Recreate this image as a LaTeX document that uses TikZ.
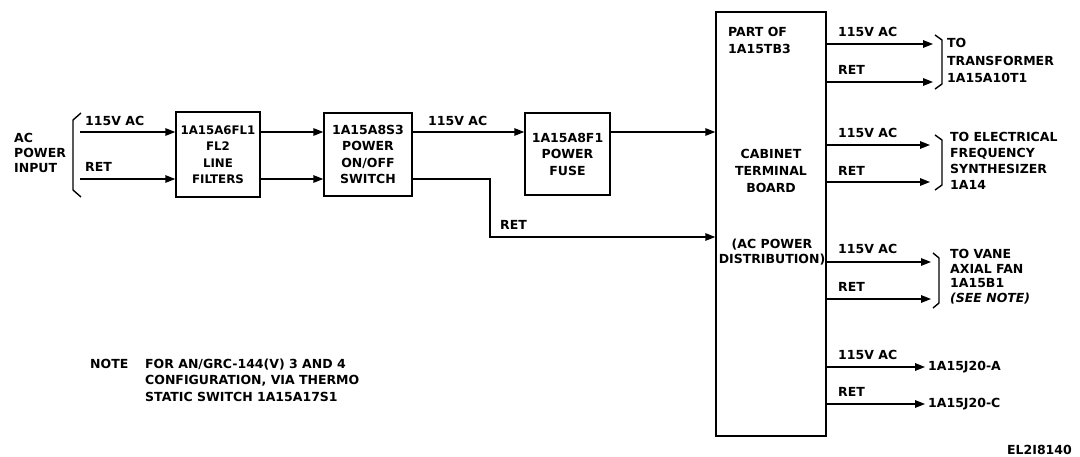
\documentclass[tikz,border=0pt]{standalone}
\usepackage{fontspec}
\setmainfont{DejaVu Sans}
\usetikzlibrary{arrows.meta}
\begin{document}
\begin{tikzpicture}[x=1pt,y=-1pt,
  every node/.style={font=\fontsize{12.5}{16.5}\selectfont\bfseries, inner sep=0pt},
  box/.style={draw, line width=1.4pt, align=center},
  wire/.style={line width=1.4pt},
  arr/.style={wire, -{Triangle[length=10pt,width=7.5pt]}},
  lbl/.style={anchor=west},
  brk/.style={line width=1.4pt, line join=round},
  multi/.style={anchor=west, align=left}]
\useasboundingbox (0,0) rectangle (1080,457);

% boxes
\node[box, minimum width=84pt, minimum height=85pt, font=\fontsize{11.8}{16.5}\selectfont\bfseries] (b1) at (218,154.5) {1A15A6FL1\\FL2\\LINE\\FILTERS};
\node[box, minimum width=88pt, minimum height=83pt] (b2) at (368,154.5) {1A15A8S3\\POWER\\ON/OFF\\SWITCH};
\node[box, minimum width=85pt, minimum height=82pt] (b3) at (567.5,154) {1A15A8F1\\POWER\\FUSE};
\node[box, minimum width=110pt, minimum height=424pt] (tb) at (771,224) {};

% left input
\node[multi, font=\fontsize{12.5}{15}\selectfont\bfseries] (acin) at (14,153) {AC\\POWER\\INPUT};
\draw[brk] (81,113) -- (73,120) -- (73,190) -- (81,197);
\coordinate (in1) at (80,132);
\coordinate (in2) at (80,179);
\node[lbl] (l1) at (85,121) {115V AC};
\node[lbl] (l2) at (85,167) {RET};
\draw[arr] (in1) -- (in1 -| b1.west);
\draw[arr] (in2) -- (in2 -| b1.west);
\draw[arr] (b1.east |- in1) -- (b2.west |- in1);
\draw[arr] (b1.east |- in2) -- (b2.west |- in2);
\draw[arr] (b2.east |- in1) -- (b3.west |- in1);
\draw[arr] (b3.east |- in1) -- (tb.west |- in1);
\node[lbl] (l3) at (428,121) {115V AC};
\coordinate (r1) at (490,179);
\coordinate (r2) at (490,237);
\draw[arr] (b2.east |- in2) -- (r1) -- (r2) -- (tb.west |- r2);
\node[lbl] (l4) at (500,225) {RET};

% terminal board texts
\node[multi, font=\fontsize{12.5}{17}\selectfont\bfseries] (tbp) at (728,40.5) {PART OF\\1A15TB3};
\node[align=center, font=\fontsize{12.5}{17}\selectfont\bfseries] (tbc) at (771,171) {CABINET\\TERMINAL\\BOARD};
\node[align=center, font=\fontsize{12.5}{15}\selectfont\bfseries] (tbd) at (772,252.5) {(AC POWER\\DISTRIBUTION)};

% outputs
\coordinate (o1a) at (933,44);  \coordinate (o1b) at (933,82);
\coordinate (o2a) at (930,145); \coordinate (o2b) at (930,182);
\coordinate (o3a) at (931,262); \coordinate (o3b) at (931,299);
\coordinate (o4a) at (925,367); \coordinate (o4b) at (925,404);
\foreach \o in {o1a,o1b,o2a,o2b,o3a,o3b,o4a,o4b}{
  \draw[arr] (tb.east |- \o) -- (\o);
}
\node[lbl] (v1) at (838,32) {115V AC};
\node[lbl] (t1) at (838,70) {RET};
\node[lbl] (v2) at (838,133) {115V AC};
\node[lbl] (t2) at (838,171) {RET};
\node[lbl] (v3) at (838,249) {115V AC};
\node[lbl] (t3) at (838,287) {RET};
\node[lbl] (v4) at (838,355) {115V AC};
\node[lbl] (t4) at (838,392) {RET};

% right brackets and destinations
\draw[brk] (935,35) -- (942,40) -- (942,84) -- (935,89);
\draw[brk] (935,135) -- (942,140) -- (942,185) -- (935,190);
\draw[brk] (933,253) -- (939,258) -- (939,303) -- (933,308);
\node[multi, font=\fontsize{12.5}{17.5}\selectfont\bfseries] (d1) at (947,60.5) {TO\\TRANSFORMER\\1A15A10T1};
\node[multi, font=\fontsize{12.5}{16}\selectfont\bfseries] (d2) at (950,161) {TO ELECTRICAL\\FREQUENCY\\SYNTHESIZER\\1A14};
\node[multi, font=\fontsize{12.5}{14.5}\selectfont\bfseries] (d3) at (950,276.5) {TO VANE\\AXIAL FAN\\1A15B1\\{\itshape(SEE NOTE)}};
\node[lbl] (d4) at (928,367) {1A15J20-A};
\node[lbl] (d5) at (928,404) {1A15J20-C};

% note
\node[lbl] (nt) at (90,364) {NOTE};
\node[multi] (ntx) at (145,380) {FOR AN/GRC-144(V) 3 AND 4\\CONFIGURATION, VIA THERMO\\STATIC SWITCH 1A15A17S1};

\node[anchor=east] (fig) at (1072,450) {EL2I8140};
\end{tikzpicture}
\end{document}
